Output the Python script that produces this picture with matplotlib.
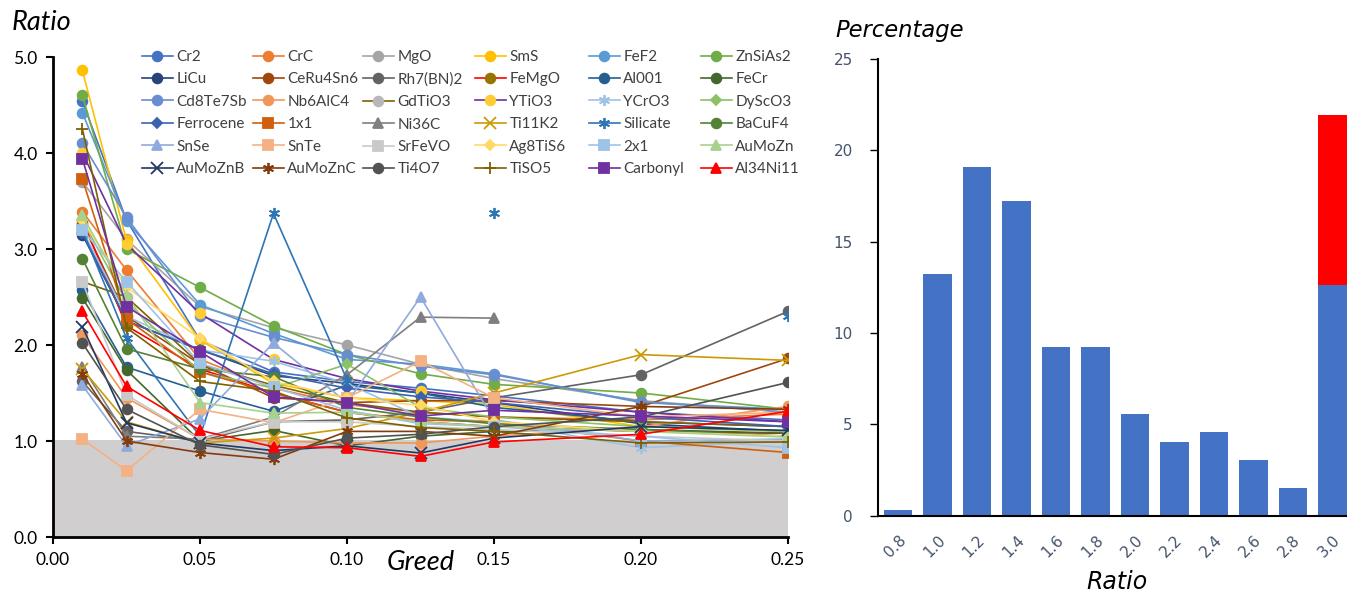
import numpy as np
import matplotlib
matplotlib.use("Agg")
import matplotlib.pyplot as plt

plt.rcParams['font.family'] = ['Lato', 'DejaVu Sans']

# greed values on the x axis
greed = [0.01, 0.025, 0.05, 0.075, 0.10, 0.125, 0.15, 0.20, 0.25]
nan = np.nan

cr2 = [4.54, 3.30, 2.05, 1.72, 1.62, 1.55, 1.47, 1.30, 1.22]
crc = [3.39, 2.78, 1.85, 1.55, 1.38, 1.30, 1.25, 1.22, 1.28]
mgo = [3.70, 3.10, 2.40, 2.18, 2.00, 1.80, 1.65, 1.42, 1.30]
sms = [4.86, 3.09, 2.05, 1.60, 1.45, 1.42, 1.38, 1.15, 1.10]
fef2 = [4.42, 3.29, 2.42, 2.12, 1.85, 1.80, 1.70, 1.40, 1.33]
znsias2 = [4.60, 3.00, 2.60, 2.20, 1.90, 1.70, 1.59, 1.50, 1.33]
licu = [3.15, 2.25, 1.95, 1.68, 1.60, 1.50, 1.40, 1.18, 1.10]
ceru4sn6 = [3.27, 2.30, 1.80, 1.45, 1.40, 1.42, 1.42, 1.36, 1.86]
rh7bn2 = [1.62, 1.10, 1.00, 1.20, 1.22, 1.30, 1.45, 1.69, 2.35]
femgo = [3.30, 2.20, 1.75, 1.50, 1.30, 1.20, 1.15, 1.10, 1.08]
al001 = [2.57, 1.77, 1.52, 1.31, 1.58, 1.50, 1.35, 1.20, 1.15]
fecr = [2.49, 1.74, 1.00, 1.11, 0.95, 1.05, 1.10, 1.12, 1.08]
cd8te7sb = [4.10, 3.33, 2.30, 2.08, 1.90, 1.78, 1.69, 1.41, 1.30]
nb6alc4 = [2.10, 1.45, 1.02, 1.00, 0.98, 0.98, 1.05, 1.15, 1.36]
gdtio3 = [2.66, 2.50, 1.80, 1.58, 1.40, 1.30, 1.25, 1.20, 1.15]
ytio3 = [4.00, 3.05, 2.33, 1.85, 1.65, 1.52, 1.43, 1.30, 1.20]
ycro3 = [3.20, 2.30, 1.95, 1.83, 1.60, 1.25, 1.20, 0.93, 1.00]
dysco3 = [3.30, 2.45, 1.72, 1.55, 1.80, 1.35, 1.25, 1.15, 1.10]
ferrocene = [3.17, 2.25, 1.95, 1.70, 1.55, 1.46, 1.40, 1.25, 1.15]
x1x1 = [3.73, 2.27, 1.72, 1.50, 1.30, 1.22, 1.20, 1.00, 0.88]
ni36c = [1.77, 1.05, 1.02, 1.25, 1.69, 2.29, 2.28, nan, nan]
ti11k2 = [1.75, 1.20, 0.98, 1.03, 1.13, 1.30, 1.50, 1.90, 1.84]
silicate = [3.20, 2.07, 1.05, 3.37, 1.64, nan, 3.37, nan, 2.30]
bacuf4 = [2.90, 1.96, 1.75, 1.67, 1.35, 1.25, 1.18, 1.12, 1.05]
snse = [1.58, 0.95, 1.23, 2.02, 1.40, 2.50, 1.22, 1.00, 1.02]
snte = [1.02, 0.69, 1.33, 1.19, 1.45, 1.83, 1.45, 1.25, 1.30]
srfevo = [2.66, 1.48, 1.02, 1.20, 1.20, 1.15, 1.12, 1.05, 1.00]
ag8tis6 = [3.30, 2.60, 2.07, 1.62, 1.45, 1.37, 1.20, 1.10, 1.05]
x2x1 = [3.20, 2.66, 1.81, 1.56, 1.32, 1.18, 1.15, 1.05, 0.93]
aumozn = [3.35, 2.52, 1.40, 1.29, 1.30, 1.20, 1.15, 1.10, 1.04]
aumoznb = [2.19, 1.19, 0.98, 0.90, 0.95, 0.875, 1.03, 1.15, 1.11]
aumoznc = [1.70, 1.00, 0.88, 0.81, 1.10, 1.10, 1.05, 1.36, 1.33]
ti4o7 = [2.02, 1.33, 0.96, 0.86, 1.03, 1.07, 1.15, 1.25, 1.61]
tiso5 = [4.25, 2.18, 1.62, 1.52, 1.24, 1.14, 1.10, 0.98, 0.99]
carbonyl = [3.94, 2.40, 1.93, 1.46, 1.40, 1.26, 1.32, 1.26, 1.20]
al34ni11 = [2.35, 1.57, 1.11, 0.94, 0.93, 0.84, 0.99, 1.07, 1.31]

threshold = 1.01

# histogram on the right
ratio_bins = ['0.8', '1.0', '1.2', '1.4', '1.6', '1.8', '2.0', '2.2', '2.4', '2.6', '2.8', '3.0']
pct_blue = [0.3, 13.25, 19.1, 17.25, 9.25, 9.25, 5.55, 4.0, 4.6, 3.05, 1.5, 12.6]
pct_red = [0, 0, 0, 0, 0, 0, 0, 0, 0, 0, 0, 9.35]

# name, values, line colour, marker, marker colour
series = [
    ("Cr2", cr2, "#4472C4", "o", None),
    ("CrC", crc, "#ED7D31", "o", None),
    ("MgO", mgo, "#A5A5A5", "o", None),
    ("SmS", sms, "#FFC000", "o", None),
    ("FeF2", fef2, "#5B9BD5", "o", None),
    ("ZnSiAs2", znsias2, "#70AD47", "o", None),
    ("LiCu", licu, "#264478", "o", None),
    ("CeRu4Sn6", ceru4sn6, "#9E480E", "o", None),
    ("Rh7(BN)2", rh7bn2, "#636363", "o", None),
    ("FeMgO", femgo, "#FF0000", "o", "#997300"),
    ("Al001", al001, "#255E91", "o", None),
    ("FeCr", fecr, "#43682B", "o", None),
    ("Cd8Te7Sb", cd8te7sb, "#698ED0", "o", None),
    ("Nb6AlC4", nb6alc4, "#F1975A", "o", None),
    ("GdTiO3", gdtio3, "#806000", "o", "#B7B7B7"),
    ("YTiO3", ytio3, "#7030A0", "o", "#FFCD33"),
    ("YCrO3", ycro3, "#9DC3E6", (6, 2, 0), None),
    ("DyScO3", dysco3, "#8CC168", "D", None),
    ("Ferrocene", ferrocene, "#3A62AE", "D", None),
    ("1x1", x1x1, "#D0600E", "s", None),
    ("Ni36C", ni36c, "#7F7F7F", "^", None),
    ("Ti11K2", ti11k2, "#CC9A06", "x", None),
    ("Silicate", silicate, "#2E75B6", (6, 2, 0), None),
    ("BaCuF4", bacuf4, "#548235", "o", None),
    ("SnSe", snse, "#8FAADC", "^", None),
    ("SnTe", snte, "#F4B183", "s", None),
    ("SrFeVO", srfevo, "#C9C9C9", "s", None),
    ("Ag8TiS6", ag8tis6, "#FFD966", "D", None),
    ("2x1", x2x1, "#9DC3E6", "s", None),
    ("AuMoZn", aumozn, "#A9D18E", "^", None),
    ("AuMoZnB", aumoznb, "#203864", "x", None),
    ("AuMoZnC", aumoznc, "#843C0C", (6, 2, 0), None),
    ("Ti4O7", ti4o7, "#525252", "o", None),
    ("TiSO5", tiso5, "#7F6000", "+", None),
    ("Carbonyl", carbonyl, "#7030A0", "s", None),
    ("Al34Ni11", al34ni11, "#FF0000", "^", None),
]

fig = plt.figure(figsize=(13.47, 5.93), dpi=100)
W, H = 1347, 593

# ---------- left: ratio vs greed ----------
ax = fig.add_axes([53 / W, 1 - 537 / H, (788 - 53) / W, (537 - 57) / H])
ax.fill_between([0, 0.25], 0, threshold, color="#D0CECE", lw=0, zorder=0)

handles = []
for name, vals, col, mk, mcol in series:
    mcol = mcol or col
    size = 7
    if mk == "D":
        size = 5.5
    elif mk in ("x", "+") or isinstance(mk, tuple):
        size = 8
    h, = ax.plot(greed, np.array(vals, dtype=float), color=col, lw=1.2,
                 marker=mk, markersize=size, markerfacecolor=mcol,
                 markeredgecolor=mcol, markeredgewidth=1.3, label=name, zorder=2)
    handles.append(h)

ax.set_xlim(0, 0.25)
ax.set_ylim(0, 5)
ax.set_xticks([0.0, 0.05, 0.10, 0.15, 0.20, 0.25])
ax.set_xticklabels([f"{v:.2f}" for v in [0.0, 0.05, 0.10, 0.15, 0.20, 0.25]])
ax.set_yticks(np.arange(0, 5.01, 1.0))
ax.set_yticklabels([f"{v:.1f}" for v in np.arange(0, 5.01, 1.0)])
ax.tick_params(labelsize=12.5, direction="out", length=5, width=1.5, colors="black", pad=6)
for s in ["top", "right"]:
    ax.spines[s].set_visible(False)
for s in ["left", "bottom"]:
    ax.spines[s].set_linewidth(2)
ax.patch.set_alpha(0)

# legend: 6 equal-width columns, filled row by row
col_x = [142, 253, 363, 475, 589, 701]
for c in range(6):
    idx = [r * 6 + c for r in range(6)]
    leg = fig.legend([handles[i] for i in idx], [series[i][0] for i in idx],
                     loc="upper left", bbox_to_anchor=(col_x[c] / W, 1 - 50 / H),
                     frameon=False, fontsize=11, handlelength=2.0, handletextpad=0.25,
                     labelspacing=0.55, borderpad=0, borderaxespad=0)
    for t in leg.get_texts():
        t.set_color("#404040")

fig.text(12 / W, 1 - 23 / H, "Ratio", fontsize=19.5, style="italic", va="center", ha="left")
fig.text(387 / W, 1 - 563 / H, "Greed", fontsize=19.5, style="italic", va="center", ha="left")

# ---------- right: histogram ----------
bx = fig.add_axes([878 / W, 1 - 515.5 / H, (W - 878) / W, (515.5 - 59) / H])
pos = np.arange(len(ratio_bins))
bx.bar(pos, pct_blue, width=0.715, color="#4472C4", zorder=2)
bx.bar(pos, pct_red, width=0.715, bottom=pct_blue, color="#FF0000", zorder=2)
bx.set_xlim(-0.51, 11.37)
bx.set_ylim(0, 25)
bx.set_yticks([0, 5, 10, 15, 20, 25])
bx.set_xticks(pos)
bx.set_xticklabels(ratio_bins, rotation=45, ha="right", rotation_mode="anchor",
                   family="DejaVu Sans", fontsize=11, color="#44546A")
for lab in bx.get_yticklabels():
    lab.set_family("DejaVu Sans")
bx.tick_params(axis="y", labelsize=11, labelcolor="#44546A", length=6, width=1, pad=12)
bx.tick_params(axis="x", length=0, pad=12)
for s in ["top", "right"]:
    bx.spines[s].set_visible(False)
bx.spines["left"].set_linewidth(1.5)
bx.spines["bottom"].set_linewidth(1.5)

fig.text(835 / W, 1 - 30 / H, "Percentage", fontsize=16.3, style="italic",
         family="DejaVu Sans", va="center", ha="left")
fig.text(1117 / W, 1 - 582 / H, "Ratio", fontsize=17, style="italic",
         family="DejaVu Sans", va="center", ha="center")

fig.savefig("out.png", dpi=100)
